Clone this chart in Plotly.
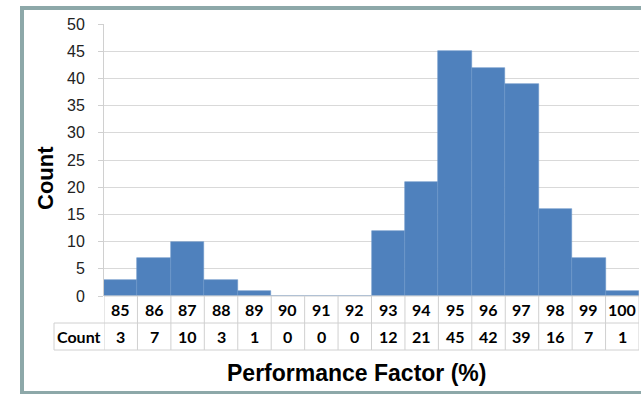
import plotly.graph_objects as go

categories = [85, 86, 87, 88, 89, 90, 91, 92, 93, 94, 95, 96, 97, 98, 99, 100]
counts = [3, 7, 10, 3, 1, 0, 0, 0, 12, 21, 45, 42, 39, 16, 7, 1]
y_ticks = [0, 5, 10, 15, 20, 25, 30, 35, 40, 45, 50]

W, H = 641, 394
ML, MR, MT, MB = 104, 2, 24, 98
PW, PH = W - ML - MR, H - MT - MB

def py(pix):  # pixel y (from top) -> paper y
    return (H - MB - pix) / PH

def px(pix):  # pixel x -> paper x
    return (pix - ML) / PW

fig = go.Figure()
fig.add_trace(go.Bar(
    x=categories, y=counts, width=1,
    marker=dict(color="#4F81BD", line=dict(color="#6A95C9", width=0.6)),
    hoverinfo="x+y",
))

shapes = []
grid = "#D0D0D0"
row1_bot = py(323)
row2_bot = py(350)
x_lo = categories[0] - 0.5
x_hi = categories[-1] + 0.5
cnt_x0 = px(54)

def line(x0, x1, y0, y1, xref="paper"):
    shapes.append(dict(type="line", xref=xref, yref="paper", x0=x0, x1=x1, y0=y0, y1=y1,
                       line=dict(color=grid, width=1)))

for yv in [row1_bot, row2_bot]:
    line(cnt_x0, 1, yv, yv)
line(0, 1, 0, 0)
for i in range(len(categories) + 1):
    xv = x_lo + i
    line(xv, xv, 0, row2_bot, xref="x")
line(cnt_x0, cnt_x0, row1_bot, row2_bot)
shapes.append(dict(type="rect", xref="paper", yref="paper",
                   x0=px(22), x1=px(W + 5), y0=py(8), y1=py(393),
                   line=dict(color="#8DA8A9", width=4), fillcolor="rgba(0,0,0,0)", layer="below"))

annotations = []
tfont = dict(family="Lato, Open Sans, Arial", size=16, color="#000000")
def ann(x, y, text, font, xref="x", yref="paper", **kw):
    annotations.append(dict(x=x, y=y, xref=xref, yref=yref, text=text, showarrow=False,
                            xanchor="center", yanchor="middle", font=font, **kw))

for c, v in zip(categories, counts):
    ann(c, (0 + row1_bot) / 2, f"<b>{c}</b>", tfont)
    ann(c, (row1_bot + row2_bot) / 2, f"<b>{v}</b>", tfont)
ann(cnt_x0 / 2, (row1_bot + row2_bot) / 2, "<b>Count</b>", tfont, xref="paper")
ann(px(356), py(373), "<b>Performance Factor (%)</b>",
    dict(family="Liberation Sans, Arial", size=23, color="#000000"), xref="paper")
ann(px(45), py(178), "<b>Count</b>",
    dict(family="Liberation Sans, Arial", size=22, color="#000000"), xref="paper", textangle=-90)

fig.update_layout(
    width=W, height=H,
    margin=dict(l=ML, r=MR, t=MT, b=MB),
    paper_bgcolor="white", plot_bgcolor="white",
    showlegend=False, bargap=0,
    xaxis=dict(range=[x_lo, x_hi], showticklabels=False, showgrid=False, zeroline=False,
               showline=False, ticks=""),
    yaxis=dict(range=[0, 50], tickvals=y_ticks, showgrid=True, gridcolor="#D9D9D9", gridwidth=1,
               zeroline=False, showline=True, linecolor="#D0D0D0", linewidth=1,
               ticks="outside", ticklen=5, tickcolor="#D0D0D0", ticklabelstandoff=10,
               tickfont=dict(family="Liberation Sans, Arial", size=16, color="#222222")),
    shapes=shapes,
    annotations=annotations,
)

fig.write_html("out.html", config={"displayModeBar": False},
               post_script="document.body.style.margin='0';document.body.style.overflow='hidden';")
